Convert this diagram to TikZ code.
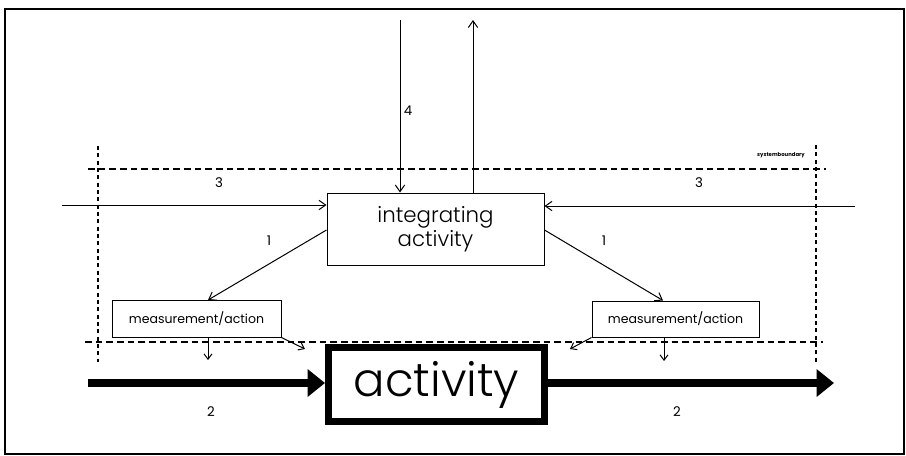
\documentclass[tikz,border=0pt]{standalone}
\usepackage{fontspec}
\setmainfont{Poppins}
\newfontfamily\thinfont{Poppins Light}
\usetikzlibrary{arrows.meta}
\begin{document}
\begin{tikzpicture}[x=0.75pt,y=-0.75pt,
  thin/.style={line width=0.75pt},
  barb/.style={thin,-{Straight Barb[length=5pt,width=7pt]}},
  smallbarb/.style={thin,-{Straight Barb[length=4pt,width=6pt]}},
  bnd/.style={line width=1pt,dash pattern=on 5pt off 3pt},
  vbnd/.style={line width=0.8pt,dash pattern=on 3pt off 2.5pt},
  box/.style={draw,thin,inner sep=0pt,align=center},
  flow/.style={line width=6pt,-{Triangle[length=13pt,width=20pt]}},
  lbl/.style={font=\fontsize{10}{12}\selectfont,inner sep=0pt}]
\useasboundingbox (0,0) rectangle (906,455);
% frame
\draw[line width=1.5pt] (5,9) -- (904,9) -- (904,454) -- (5,454) -- cycle;
% system boundary
\draw[bnd] (88,169) -- (826,169);
\draw[bnd] (85,342) -- (823,342);
\draw[vbnd] (98,146) -- (98,362);
\draw[vbnd] (816,145) -- (816,362);
\node[inner sep=0pt,font=\fontsize{4}{5}\selectfont\bfseries] (sb) at (781,155) {systemboundary};
% boxes
\node[box,minimum width=217*0.75pt,minimum height=72*0.75pt,font=\fontsize{16}{20}\selectfont\thinfont] (int) at (435.5,229) {integrating\\[-2pt]activity};
\node[box,minimum width=169*0.75pt,minimum height=37*0.75pt,font=\fontsize{9.4}{11}\selectfont] (m1) at (196.5,318.5) {measurement/action};
\node[box,minimum width=167*0.75pt,minimum height=36*0.75pt,font=\fontsize{9.4}{11}\selectfont] (m2) at (675.5,319) {measurement/action};
\node[draw,line width=5.25pt,inner sep=0pt,minimum width=216*0.75pt,minimum height=74*0.75pt,font=\fontsize{35}{40}\selectfont\thinfont] (act) at (436.5,384.5) {activity};
% coordinates
\coordinate (topin) at (400,20);
\coordinate (topout) at (473,20);
\coordinate (lin) at (62,205);
\coordinate (rin) at (855,206);
\coordinate (m1t) at (208,300);
\coordinate (m2t) at (663,300.5);
\coordinate (d1) at (208,360);
\coordinate (d2) at (664,361);
\coordinate (e1) at (305,349);
\coordinate (e2) at (570,349);
\coordinate (fin) at (88,383);
\coordinate (fout) at (834,383);
% connectors
\draw[barb] (topin) -- (topin |- int.north);
\draw[barb] (topout |- int.north) -- (topout);
\draw[barb] (lin) -- (lin -| int.west);
\draw[barb] (rin) -- (rin -| int.east);
\draw[barb] (int.west |- 0,230) -- (m1t);
\draw[barb] (int.east |- 0,230) -- (m2t);
\draw[smallbarb] (m1.south -| d1) -- (d1);
\draw[smallbarb] (m2.south -| d2) -- (d2);
\draw[smallbarb] (m1.south east) -- (e1);
\draw[smallbarb] (m2.south west) -- (e2);
\draw[flow] (fin) -- (fin -| act.west);
\draw[flow] (fin -| act.east) -- (fout);
% labels
\node[lbl] (l4) at (408,111) {4};
\node[lbl] (l3a) at (219,183) {3};
\node[lbl] (l3b) at (699,183) {3};
\node[lbl] (l1a) at (269,241) {1};
\node[lbl] (l1b) at (604,241) {1};
\node[lbl] (l2a) at (211,412) {2};
\node[lbl] (l2b) at (677,412) {2};
\end{tikzpicture}
\end{document}
